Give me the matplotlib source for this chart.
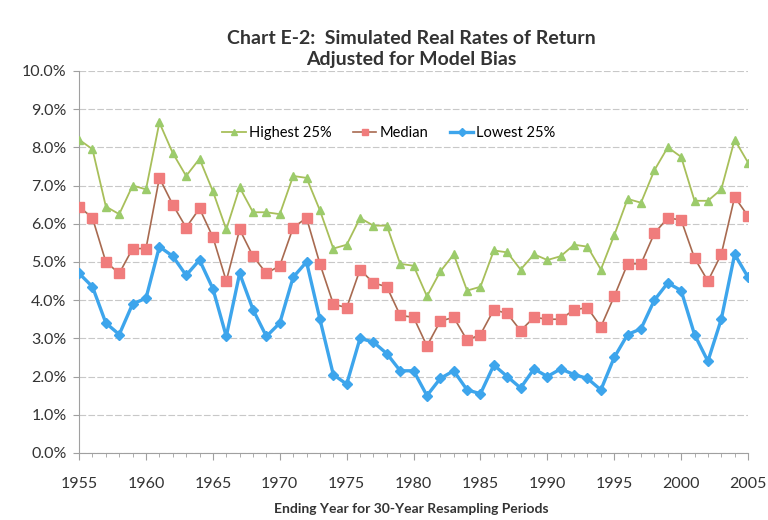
import matplotlib
matplotlib.use("Agg")
import matplotlib.pyplot as plt
from matplotlib.ticker import MultipleLocator, FuncFormatter

years = list(range(1955, 2006))

highest = [8.2, 7.95, 6.45, 6.25, 7.0, 6.9, 8.65, 7.85, 7.25, 7.7,
           6.85, 5.85, 6.95, 6.3, 6.3, 6.25, 7.25, 7.2, 6.35, 5.35,
           5.45, 6.15, 5.95, 5.95, 4.95, 4.9, 4.1, 4.75, 5.2, 4.25,
           4.35, 5.3, 5.25, 4.8, 5.2, 5.05, 5.15, 5.45, 5.4, 4.8,
           5.7, 6.65, 6.55, 7.4, 8.0, 7.75, 6.6, 6.6, 6.9, 8.2, 7.6]

median = [6.45, 6.15, 5.0, 4.7, 5.35, 5.35, 7.2, 6.5, 5.9, 6.4,
          5.65, 4.5, 5.85, 5.15, 4.7, 4.9, 5.9, 6.15, 4.95, 3.9,
          3.8, 4.8, 4.45, 4.35, 3.6, 3.55, 2.8, 3.45, 3.55, 2.95,
          3.1, 3.75, 3.65, 3.2, 3.55, 3.5, 3.5, 3.75, 3.8, 3.3,
          4.1, 4.95, 4.95, 5.75, 6.15, 6.1, 5.1, 4.5, 5.2, 6.7, 6.2]

lowest = [4.7, 4.35, 3.4, 3.1, 3.9, 4.05, 5.4, 5.15, 4.65, 5.05,
          4.3, 3.05, 4.7, 3.75, 3.05, 3.4, 4.6, 5.0, 3.5, 2.05,
          1.8, 3.0, 2.9, 2.6, 2.15, 2.15, 1.5, 1.95, 2.15, 1.65,
          1.55, 2.3, 2.0, 1.7, 2.2, 2.0, 2.2, 2.05, 1.95, 1.65,
          2.5, 3.1, 3.25, 4.0, 4.45, 4.25, 3.1, 2.4, 3.5, 5.2, 4.6]

series_names = ["Highest 25%", "Median", "Lowest 25%"]
title = "Chart E-2:  Simulated Real Rates of Return\nAdjusted for Model Bias"
xlabel = "Ending Year for 30-Year Resampling Periods"

plt.rcParams['font.family'] = ['Lato', 'DejaVu Sans']

fig = plt.figure(figsize=(7.68, 5.2), dpi=100)
ax = fig.add_axes([0.103, 0.129, 0.871, 0.7346])

ax.plot(years, highest, color='#A8BF5A', lw=1.3, marker='^', ms=6,
        mfc='#9CCB6B', mec='#9CCB6B', label=series_names[0], zorder=3)
ax.plot(years, median, color='#A86A50', lw=1.2, marker='s', ms=6.5,
        mfc='#F07C7C', mec='#F07C7C', label=series_names[1], zorder=3)
ax.plot(years, lowest, color='#3DA5EC', lw=2.4, marker='D', ms=5,
        mfc='#3DA5EC', mec='#3DA5EC', label=series_names[2], zorder=3)

ax.set_xlim(1955, 2005)
ax.set_ylim(0, 10)
ax.xaxis.set_major_locator(MultipleLocator(5))
ax.xaxis.set_minor_locator(MultipleLocator(1))
ax.yaxis.set_major_locator(MultipleLocator(1))
ax.yaxis.set_major_formatter(FuncFormatter(lambda v, p: f"{v:.1f}%"))

ax.grid(axis='y', color='#C8C8C8', lw=0.8, ls=(0, (6, 2)))
ax.set_axisbelow(True)
for s in ['top', 'right']:
    ax.spines[s].set_visible(False)
for s in ['left', 'bottom']:
    ax.spines[s].set_color('#A0A0A0')
ax.tick_params(axis='both', which='both', colors='#A0A0A0', labelcolor='#333333',
               labelsize=11.5)
ax.tick_params(axis='x', which='major', length=5, direction='out', pad=12)
ax.tick_params(axis='x', which='minor', length=3, direction='out')
ax.tick_params(axis='y', which='major', length=4, direction='out', pad=5)

leg = ax.legend(loc='center', bbox_to_anchor=(0.463, 0.838), ncol=3,
                frameon=False, fontsize=10.5, handlelength=1.6,
                columnspacing=1.5, handletextpad=0.2, markerscale=0.75)

fig.text(0.535, 0.905, title, ha='center', va='center', fontsize=14,
         fontweight='bold', color='#333333', linespacing=1.3)
fig.text(0.535, 0.022, xlabel, ha='center', va='center', fontsize=10,
         fontweight='bold', color='#333333')

fig.savefig('out.png', dpi=100)
